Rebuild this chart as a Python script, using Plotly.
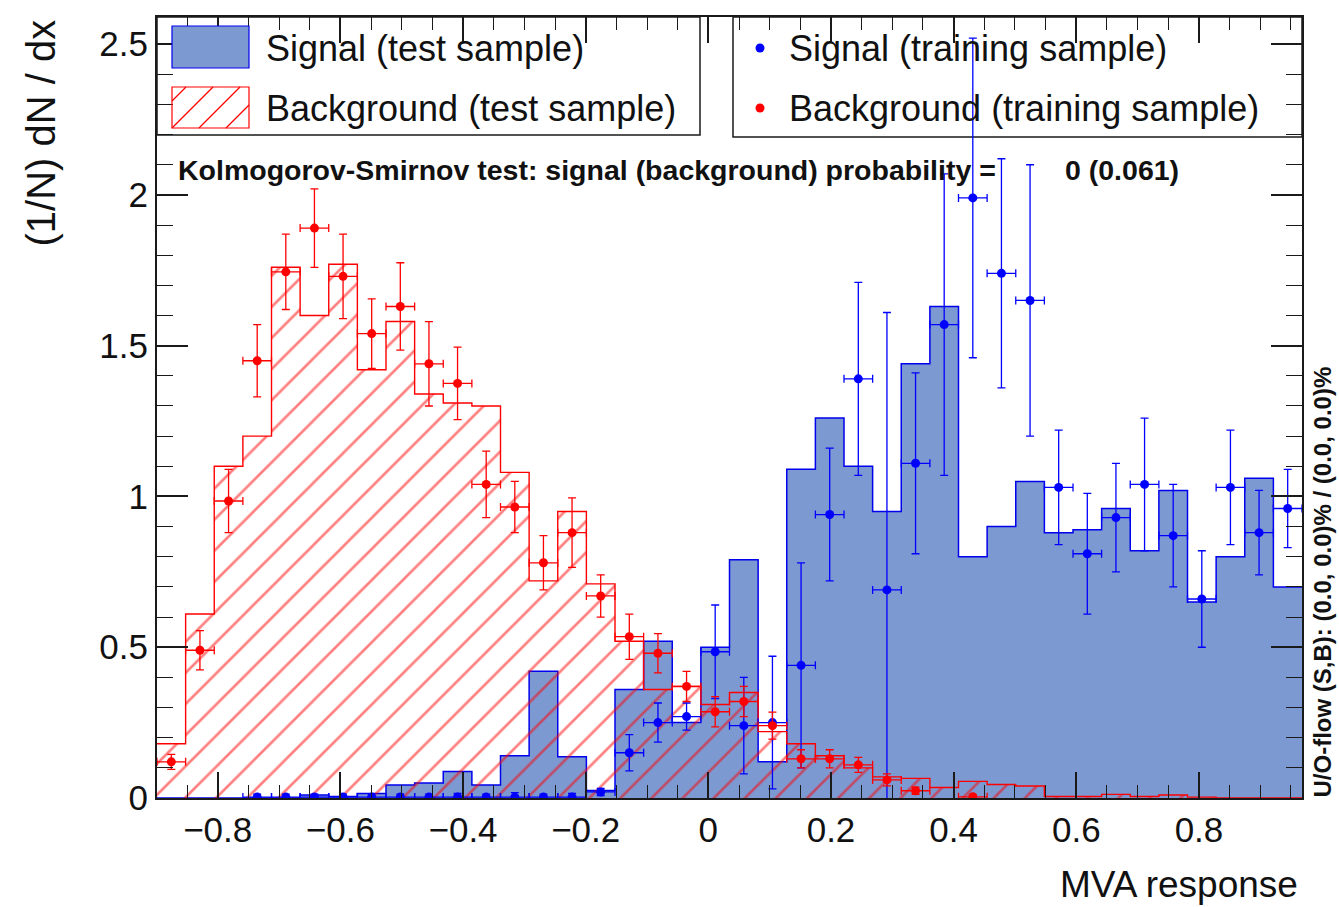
import numpy as np
import plotly.graph_objects as go

# ---------------- data ----------------
x_min, x_max = -0.899, 0.968
n_bins = 40

signal_test = [0, 0, 0, 0, 0, 0.01, 0.005, 0.015, 0.043, 0.05,
               0.088, 0.043, 0.14, 0.42, 0.137, 0.025, 0.36, 0.52, 0.25, 0.50,
               0.79, 0.12, 1.09, 1.26, 1.10, 0.95, 1.44, 1.63, 0.80, 0.90,
               1.05, 0.88, 0.89, 0.96, 0.82, 1.02, 0.65, 0.80, 1.06, 0.70]

background_test = [0.18, 0.61, 1.10, 1.20, 1.76, 1.60, 1.77, 1.42, 1.58, 1.34,
                   1.31, 1.30, 1.08, 0.72, 0.95, 0.71, 0.52, 0.36, 0.37, 0.31,
                   0.35, 0.22, 0.18, 0.14, 0.10, 0.07, 0.065, 0.035, 0.055, 0.045,
                   0.04, 0.005, 0.005, 0.012, 0.005, 0.01, 0.003, 0, 0, 0]

signal_train = [None, None, None, 0.003, 0.003, 0.003, 0.003, 0.003, 0.003, 0.003,
                0.003, 0.003, 0.003, 0.003, 0.003, 0.02, 0.15, 0.25, 0.27, 0.485,
                0.24, 0.25, 0.44, 0.94, 1.39, 0.69, 1.11, 1.57, 1.99, 1.74,
                1.65, 1.03, 0.81, 0.93, 1.04, 0.87, 0.66, 1.03, 0.88, 0.96]
signal_train_err = [None, None, None, 0.01, 0.01, 0.01, 0.01, 0.01, 0.01, 0.01,
                    0.012, 0.01, 0.015, 0.01, 0.012, 0.012, 0.06, 0.065, 0.045, 0.155,
                    0.16, 0.22, 0.34, 0.22, 0.32, 0.92, 0.30, 0.50, 0.53, 0.38,
                    0.45, 0.19, 0.20, 0.18, 0.22, 0.17, 0.16, 0.19, 0.14, 0.13]

background_train = [0.12, 0.49, 0.985, 1.45, 1.745, 1.89, 1.73, 1.54, 1.63, 1.44,
                    1.375, 1.04, 0.965, 0.78, 0.88, 0.67, 0.535, 0.48, 0.37, 0.286,
                    0.32, 0.24, 0.13, 0.13, 0.11, 0.06, 0.024, None, 0.004, None,
                    None, None, None, None, None, None, None, None, None, None]
background_train_err = [0.025, 0.065, 0.105, 0.12, 0.125, 0.13, 0.14, 0.115, 0.145, 0.14,
                        0.12, 0.11, 0.085, 0.09, 0.115, 0.07, 0.075, 0.065, 0.05, 0.05,
                        0.05, 0.045, 0.03, 0.03, 0.025, 0.02, 0.012, None, 0.006, None,
                        None, None, None, None, None, None, None, None, None, None]

x_ticks = [-0.8, -0.6, -0.4, -0.2, 0, 0.2, 0.4, 0.6, 0.8]
y_ticks = [0, 0.5, 1, 1.5, 2, 2.5]
y_max = 2.59

ks_text = "Kolmogorov-Smirnov test: signal (background) probability ="
ks_value = "0 (0.061)"
uo_text = "U/O-flow (S,B): (0.0, 0.0)% / (0.0, 0.0)%"

# ---------------- geometry ----------------
W, H = 1339, 907
ML, MR, MT, MB = 157, 37, 17, 109
PW, PH = W - ML - MR, H - MT - MB

def pxx(p):
    return (p - ML) / PW

def pyy(p):
    return (H - MB - p) / PH

edges = np.linspace(x_min, x_max, n_bins + 1)
bw = edges[1] - edges[0]
centers = 0.5 * (edges[:-1] + edges[1:])

SIG_FILL = "#7d99d1"
SIG_LINE = "#0000ee"
RED = "#ff0000"
BLUE = "#0000ff"
FONT = "Liberation Sans, Arial, Helvetica, sans-serif"
AX = "#1a1a1a"

fig = go.Figure()

# signal test (filled step histogram)
fig.add_trace(go.Scatter(
    x=list(edges), y=list(signal_test) + [signal_test[-1]],
    mode="lines", line=dict(shape="hv", color=SIG_LINE, width=1.5),
    fill="tozeroy", fillcolor=SIG_FILL, hoverinfo="skip", showlegend=False))

# background test (hatched step histogram)
fig.add_trace(go.Scatter(
    x=list(edges), y=list(background_test) + [background_test[-1]],
    mode="lines", line=dict(shape="hv", color=RED, width=1.4),
    fill="tozeroy", fillcolor="rgba(0,0,0,0)",
    fillpattern=dict(shape="/", fgcolor=RED, bgcolor="rgba(0,0,0,0)",
                     size=22, solidity=0.12, fillmode="overlay"),
    hoverinfo="skip", showlegend=False))

def points(vals, errs, color):
    xs, ys, es = [], [], []
    for c, v, e in zip(centers, vals, errs):
        if v is None:
            continue
        xs.append(c); ys.append(v); es.append(e)
    return go.Scatter(
        x=xs, y=ys, mode="markers",
        marker=dict(color=color, size=9, symbol="circle"),
        error_y=dict(type="data", array=es, visible=True, color=color,
                     thickness=1.3, width=4),
        error_x=dict(type="constant", value=bw / 2, visible=True, color=color,
                     thickness=1.3, width=4),
        hoverinfo="skip", showlegend=False)

fig.add_trace(points(signal_train, signal_train_err, BLUE))
fig.add_trace(points(background_train, background_train_err, RED))

shapes = []
# legend boxes (drawn below the data)
shapes.append(dict(type="rect", xref="paper", yref="paper",
                   x0=pxx(157), x1=pxx(700), y0=pyy(135), y1=pyy(17),
                   line=dict(color=AX, width=1.5), fillcolor="rgba(0,0,0,0)", layer="below"))
shapes.append(dict(type="rect", xref="paper", yref="paper",
                   x0=pxx(733), x1=pxx(1302), y0=pyy(137), y1=pyy(17),
                   line=dict(color=AX, width=1.5), fillcolor="rgba(0,0,0,0)", layer="below"))
# legend symbol: signal test
shapes.append(dict(type="rect", xref="paper", yref="paper",
                   x0=pxx(172), x1=pxx(249), y0=pyy(68), y1=pyy(26),
                   line=dict(color=SIG_LINE, width=1.2), fillcolor=SIG_FILL))
# legend symbol: background test (hatched)
bx0, bx1, by0, by1 = 172, 249, 87, 128
shapes.append(dict(type="rect", xref="paper", yref="paper",
                   x0=pxx(bx0), x1=pxx(bx1), y0=pyy(by1), y1=pyy(by0),
                   line=dict(color=RED, width=1.2), fillcolor="rgba(0,0,0,0)"))
for k in range(-2, 6):
    xs0 = bx0 + k * 27
    pts = []
    for t in np.linspace(0, 200, 2001):
        xx, yy = xs0 + t, by1 - t
        if bx0 <= xx <= bx1 and by0 <= yy <= by1:
            pts.append((xx, yy))
    if len(pts) > 2:
        (a1, b1), (a2, b2) = pts[0], pts[-1]
        shapes.append(dict(type="line", xref="paper", yref="paper",
                           x0=pxx(a1), y0=pyy(b1), x1=pxx(a2), y1=pyy(b2),
                           line=dict(color=RED, width=1.2)))
# legend symbols: training markers
for cy, col in [(48, BLUE), (108, RED)]:
    r = 4.5
    shapes.append(dict(type="circle", xref="paper", yref="paper",
                       x0=pxx(760 - r), x1=pxx(760 + r), y0=pyy(cy + r), y1=pyy(cy - r),
                       line=dict(color=col, width=0), fillcolor=col))

annotations = []
def text(x, y, s, size, xanchor="left", yanchor="middle", angle=0, bold=False, color="#111"):
    annotations.append(dict(
        x=pxx(x), y=pyy(y), xref="paper", yref="paper", text=(f"<b>{s}</b>" if bold else s),
        showarrow=False, xanchor=xanchor, yanchor=yanchor, textangle=angle,
        font=dict(family=FONT, size=size, color=color)))

text(264, 48, "Signal (test sample)", 36)
text(264, 108, "Background (test sample)", 36)
text(787, 48, "Signal (training sample)", 36)
text(787, 108, "Background (training sample)", 36)
text(176, 170, ks_text, 28.5, bold=True)
text(1063, 170, ks_value, 28.5, bold=True)
text(1300, 884, "MVA response", 37, xanchor="right")
text(40, 18, "(1/N) dN / dx", 40, xanchor="center", yanchor="top", angle=-90)
text(1322, 800, uo_text, 24, xanchor="center", yanchor="bottom", angle=-90, bold=True)

fig.update_layout(
    width=W, height=H,
    margin=dict(l=ML, r=MR, t=MT, b=MB, pad=0),
    paper_bgcolor="white", plot_bgcolor="white",
    shapes=shapes, annotations=annotations,
    showlegend=False,
    xaxis=dict(range=[x_min, x_max], tickvals=x_ticks, ticks="inside", ticklen=26,
               tickwidth=1.5, tickcolor=AX, showline=True, linewidth=2, linecolor=AX,
               mirror="ticks", showgrid=False, zeroline=False,
               tickfont=dict(family=FONT, size=35, color="#111"),
               minor=dict(dtick=0.05, tick0=0, ticks="inside", ticklen=13,
                          tickwidth=1.2, tickcolor=AX, showgrid=False)),
    yaxis=dict(range=[0, y_max], tickvals=y_ticks, ticks="inside", ticklen=31,
               tickwidth=1.5, tickcolor=AX, showline=True, linewidth=2, linecolor=AX,
               mirror="ticks", showgrid=False, zeroline=False,
               tickfont=dict(family=FONT, size=35, color="#111"),
               minor=dict(dtick=0.1, tick0=0, ticks="inside", ticklen=16,
                          tickwidth=1.2, tickcolor=AX, showgrid=False)),
)

fig.write_html("out.html")
